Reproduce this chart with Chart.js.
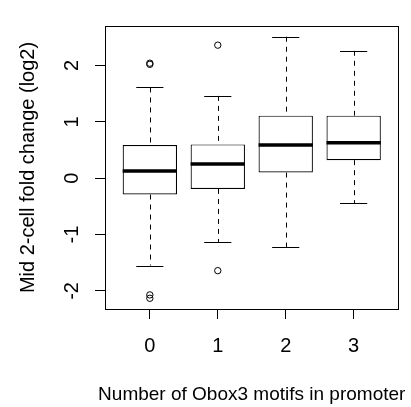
<!DOCTYPE html>
<html><head><meta charset="utf-8">
<script src="https://cdn.jsdelivr.net/npm/chart.js@4"></script>
<style>html,body{margin:0;padding:0;background:#fff;overflow:hidden;}</style>
</head><body>
<canvas id="c" width="411" height="407" style="display:block;width:411px;height:407px"></canvas>
<script>
// ---- data ----
const categories = ['0', '1', '2', '3'];
const lowerWhisker = [-1.55, -1.13, -1.22, -0.44];
const q1Values = [-0.29, -0.19, 0.10, 0.32];
const medianValues = [0.13, 0.25, 0.59, 0.63];
const q3Values = [0.59, 0.60, 1.11, 1.11];
const upperWhisker = [1.61, 1.46, 2.51, 2.26];
const outlierGroup = [0, 0, 0, 0, 1, 1];
const outlierValues = [2.02, 2.04, -2.07, -2.13, 2.36, -1.64];
const yTickValues = [-2, -1, 0, 1, 2];
const xTitle = 'Number of Obox3 motifs in promoter';
const yTitle = 'Mid 2-cell fold change (log2)';

const FONT = {family: "'Liberation Sans', Arial, sans-serif", size: 20, lineHeight: 1.2};
const XTITLE_SIZE = 19;

const boxPlugin = {
  id: 'boxParts',
  afterDatasetsDraw(chart) {
    const ctx = chart.ctx, xs = chart.scales.x, ys = chart.scales.y;
    ctx.save();
    ctx.strokeStyle = '#000';
    categories.forEach((c, i) => {
      const xc = xs.getPixelForValue(i);
      const capL = xs.getPixelForValue(i - 0.2), capR = xs.getPixelForValue(i + 0.2);
      const boxL = xs.getPixelForValue(i - 0.4), boxR = xs.getPixelForValue(i + 0.4);
      const xw = Math.round(xc) + 0.5;
      // dashed whiskers
      ctx.lineWidth = 1;
      ctx.setLineDash([5, 5]);
      ctx.beginPath();
      ctx.moveTo(xw, ys.getPixelForValue(upperWhisker[i]));
      ctx.lineTo(xw, ys.getPixelForValue(q3Values[i]));
      ctx.moveTo(xw, ys.getPixelForValue(q1Values[i]));
      ctx.lineTo(xw, ys.getPixelForValue(lowerWhisker[i]));
      ctx.stroke();
      ctx.setLineDash([]);
      // staples
      ctx.beginPath();
      const yu = Math.round(ys.getPixelForValue(upperWhisker[i])) + 0.5;
      const yl = Math.round(ys.getPixelForValue(lowerWhisker[i])) + 0.5;
      ctx.moveTo(capL, yu); ctx.lineTo(capR, yu);
      ctx.moveTo(capL, yl); ctx.lineTo(capR, yl);
      ctx.stroke();
      // median
      ctx.lineWidth = 3.5;
      ctx.lineCap = 'butt';
      ctx.beginPath();
      const ym = ys.getPixelForValue(medianValues[i]);
      ctx.moveTo(boxL, ym); ctx.lineTo(boxR, ym);
      ctx.stroke();
    });
    // plot frame
    const a = chart.chartArea;
    ctx.lineWidth = 1;
    ctx.strokeRect(Math.round(a.left) + 0.5, Math.round(a.top) + 0.5,
      Math.round(a.right) - Math.round(a.left) - 1, Math.round(a.bottom) - Math.round(a.top));
    // x axis title (drawn without width compression, as in the reference)
    ctx.fillStyle = '#000';
    ctx.font = XTITLE_SIZE + 'px ' + FONT.family;
    ctx.textAlign = 'center';
    ctx.textBaseline = 'middle';
    ctx.fillText(xTitle, (xs.left + xs.right) / 2, xs.bottom - 12.5);
    ctx.restore();
  }
};

new Chart(document.getElementById('c'), {
  data: {
    datasets: [
      {
        type: 'bar',
        data: categories.map((c, i) => ({x: i, y: [q1Values[i], q3Values[i]]})),
        backgroundColor: '#fff',
        borderColor: '#000',
        borderWidth: 1.2,
        borderSkipped: false,
        categoryPercentage: 1,
        barPercentage: 0.8,
        grouped: false
      },
      {
        type: 'scatter',
        data: outlierValues.map((v, k) => ({x: outlierGroup[k], y: v})),
        pointStyle: 'circle',
        pointRadius: 3.2,
        pointBorderWidth: 1,
        borderColor: '#000',
        backgroundColor: 'rgba(0,0,0,0)',
        showLine: false
      }
    ]
  },
  options: {
    responsive: false,
    animation: false,
    devicePixelRatio: 1,
    layout: {padding: {left: 0, top: 12, right: 12.5, bottom: 0}},
    plugins: {legend: {display: false}, tooltip: {enabled: false}},
    scales: {
      x: {
        type: 'linear', position: 'bottom', min: -0.66, max: 3.66, offset: false,
        afterBuildTicks: s => { s.ticks = categories.map((c, i) => ({value: i})); },
        afterFit: s => { s.height = 98; },
        grid: {display: true, offset: false, drawOnChartArea: false, drawTicks: true, tickLength: 10, color: '#000', lineWidth: 1},
        border: {display: false},
        ticks: {callback: v => categories[v], font: FONT, color: '#000', padding: 15.7, maxRotation: 0, autoSkip: false},
        title: {display: false}
      },
      y: {
        type: 'linear', position: 'left', min: -2.32, max: 2.70,
        afterBuildTicks: s => { s.ticks = yTickValues.map(v => ({value: v})); },
        afterFit: s => { s.width = 105; },
        grid: {display: true, drawOnChartArea: false, drawTicks: true, tickLength: 10, color: '#000', lineWidth: 1},
        border: {display: false},
        ticks: {callback: v => String(v), font: FONT, color: '#000', padding: 14, minRotation: 90, maxRotation: 90, crossAlign: 'center', autoSkip: false},
        title: {display: true, text: yTitle, font: FONT, color: '#000', padding: {top: 16, bottom: 0}}
      }
    }
  },
  plugins: [boxPlugin]
});
</script>
</body></html>
